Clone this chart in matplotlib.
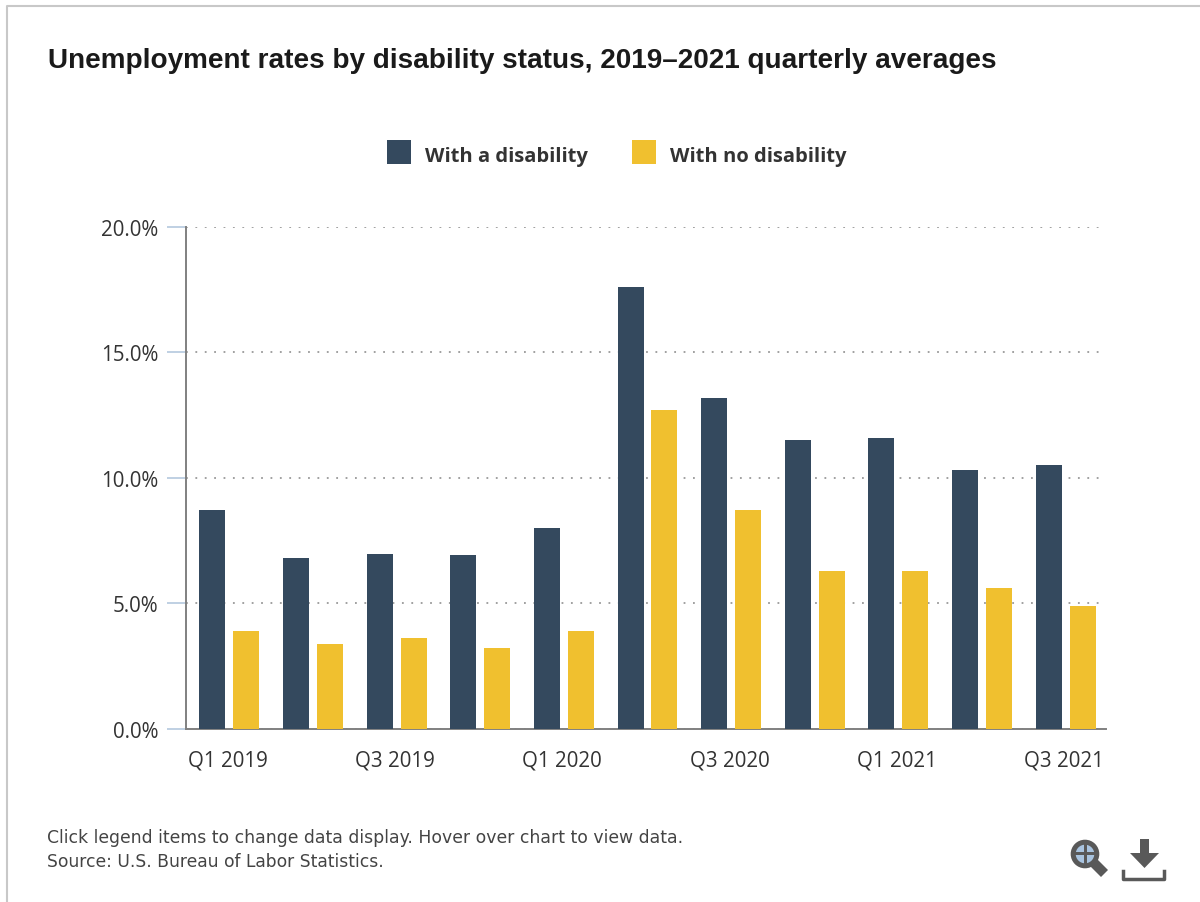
import matplotlib
matplotlib.use("Agg")
import matplotlib.pyplot as plt
import numpy as np
from matplotlib.patches import Circle, Polygon, Rectangle
from matplotlib.lines import Line2D

quarters = ["Q1 2019", "Q2 2019", "Q3 2019", "Q4 2019", "Q1 2020", "Q2 2020",
            "Q3 2020", "Q4 2020", "Q1 2021", "Q2 2021", "Q3 2021"]
with_disability = [8.7, 6.8, 6.95, 6.9, 8.0, 17.6, 13.2, 11.5, 11.6, 10.3, 10.5]
no_disability = [3.9, 3.35, 3.6, 3.2, 3.9, 12.7, 8.7, 6.3, 6.3, 5.6, 4.9]
y_ticks = [0, 5, 10, 15, 20]

NAVY = "#34495e"
GOLD = "#f0c02f"
TEXT = "#333333"
W, H = 1200, 903

plt.rcParams["font.family"] = ["Open Sans", "DejaVu Sans"]

fig = plt.figure(figsize=(W / 100, H / 100), dpi=100, facecolor="white")
ax = fig.add_axes([186 / W, 1 - 729.5 / H, 920 / W, 501.5 / H])

x = np.arange(len(quarters))
ax.bar(x - 0.185, with_disability, width=0.311, color=NAVY, zorder=3)
ax.bar(x + 0.221, no_disability, width=0.311, color=GOLD, zorder=3)

ax.set_xlim(-0.5, len(quarters) - 0.5)
ax.set_ylim(0, 20)
ax.set_yticks(y_ticks)
ax.set_yticklabels([f"{v:.1f}%" for v in y_ticks], fontsize=14.8, color=TEXT)
ax.set_xticks(x[::2])
ax.set_xticklabels(quarters[::2], fontsize=14.8, color=TEXT)
ax.tick_params(axis="y", length=13.7, width=1.2, color="#b4c8de", pad=6)
ax.tick_params(axis="x", length=0, pad=15)

ax.yaxis.grid(True, color="#999999", linestyle=(0, (1, 4.2)), linewidth=1.3, zorder=1)
ax.set_axisbelow(True)
for side in ("top", "right"):
    ax.spines[side].set_visible(False)
for side in ("left", "bottom"):
    ax.spines[side].set_color("#808080")
    ax.spines[side].set_linewidth(1.4)

fig.text(48 / W, 1 - 60.5 / H, "Unemployment rates by disability status, 2019\u20132021 quarterly averages",
         fontsize=20.1, fontweight="bold", family="Liberation Sans", color="#1a1a1a", va="center")

# overlay in pixel coordinates for the legend, frame and toolbar icons
ov = fig.add_axes([0, 0, 1, 1], facecolor="none")
ov.set_xlim(0, W)
ov.set_ylim(H, 0)
ov.axis("off")

ov.add_line(Line2D([7, 7, W], [H, 7, 7], color="#c8c8c8", linewidth=1.5))

ov.add_patch(Rectangle((387, 141), 24, 24, facecolor=NAVY))
ov.add_patch(Rectangle((632, 141), 24, 24, facecolor=GOLD))
ov.text(425, 157, "With a disability", fontsize=14.5, fontweight="bold", color=TEXT, va="center")
ov.text(670, 157, "With no disability", fontsize=14.5, fontweight="bold", color=TEXT, va="center")

ov.text(47, 838, "Click legend items to change data display. Hover over chart to view data.",
        fontsize=12.42, family="DejaVu Sans", color="#444444", va="center")
ov.text(47, 862, "Source: U.S. Bureau of Labor Statistics.", fontsize=12.35, family="DejaVu Sans",
        color="#444444", va="center")

# magnifier icon
icon = "#595959"
ov.add_patch(Circle((1085, 855), 11.8, facecolor="#a9c4e0", edgecolor=icon, linewidth=3.6))
ov.add_patch(Rectangle((1083.5, 844), 3, 22, facecolor=icon))
ov.add_patch(Rectangle((1074, 853.5), 22, 3, facecolor=icon))
ov.add_patch(Polygon([(1090, 867), (1097, 860), (1108, 871), (1101, 878)], facecolor=icon))

# download icon
ov.add_patch(Rectangle((1140, 840), 9, 14, facecolor=icon))
ov.add_patch(Polygon([(1130, 854), (1159, 854), (1144.5, 869)], facecolor=icon))
ov.add_line(Line2D([1123, 1123, 1164, 1164], [872, 880, 880, 872], color=icon, linewidth=2.5))

fig.savefig("out.png", dpi=100)
